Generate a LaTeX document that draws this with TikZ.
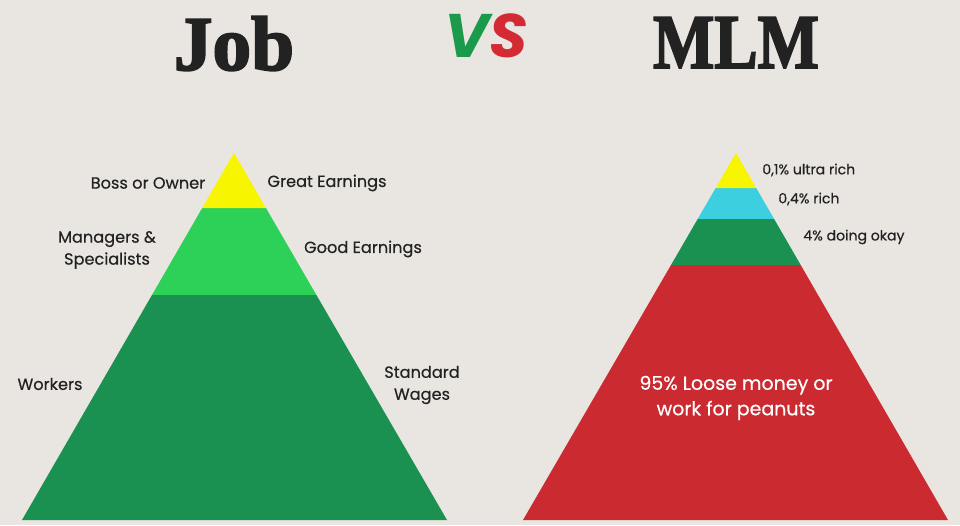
\documentclass[tikz,border=0pt]{standalone}
\usepackage{fontspec}
\setmainfont{Poppins}[FakeBold=0.4]
\newfontfamily\titlefont[BoldFeatures={FakeBold=2.5}]{Liberation Serif}
\newfontfamily\vsfont{Poppins}
\usetikzlibrary{calc,positioning}

\definecolor{paper}{HTML}{E9E5E1}
\definecolor{ink}{HTML}{222222}
\definecolor{topyellow}{HTML}{F8F500}
\definecolor{midgreen}{HTML}{2ED157}
\definecolor{darkgreen}{HTML}{1A9150}
\definecolor{richcyan}{HTML}{3CCFE0}
\definecolor{lossred}{HTML}{CC2A31}
\definecolor{vsgreen}{HTML}{1A9A4A}
\definecolor{vsred}{HTML}{D42A33}

\begin{document}
\begin{tikzpicture}[x=0.02cm, y=0.02cm]
\tikzstyle{title}=[font=\titlefont\bfseries\fontsize{44}{44}\selectfont, text=ink, inner sep=0pt, anchor=base]
\tikzstyle{lbl}=[font=\fontsize{9.2}{12.5}\selectfont, text=ink, align=center, inner sep=0pt]
\tikzstyle{small}=[font=\fontsize{8}{9}\selectfont, text=ink, inner sep=0pt, anchor=west]
\useasboundingbox (0,0) rectangle (960,525);
\fill[paper] (0,0) rectangle (960,525);

% titles
\node[title] (job) at (234,455) {Job};
\node[title, xscale=0.84] (mlm) at (736,457) {MLM};
\node[inner sep=0pt, anchor=base, font=\vsfont\bfseries\itshape\fontsize{35}{35}\selectfont] (vs) at (486,467) {\textcolor{vsgreen}{V}\textcolor{vsred}{S}};

% job pyramid
\coordinate (ja) at (234,372);
\coordinate (jl) at (22,5);
\coordinate (jr) at (447,5);
\fill[darkgreen] (jl) -- (jr) -- ($(ja)!0.3869!(jr)$) -- ($(ja)!0.3869!(jl)$) -- cycle;
\fill[midgreen] ($(ja)!0.3869!(jl)$) -- ($(ja)!0.3869!(jr)$) -- ($(ja)!0.1499!(jr)$) -- ($(ja)!0.1499!(jl)$) -- cycle;
\fill[topyellow] (ja) -- ($(ja)!0.1499!(jr)$) -- ($(ja)!0.1499!(jl)$) -- cycle;

\node[lbl] (boss) at (148,342) {Boss or Owner};
\node[lbl] (great) at (327,342) {Great Earnings};
\node[lbl] (mgr) at (107,275) {Managers \&\\Specialists};
\node[lbl] (good) at (363,276) {Good Earnings};
\node[lbl] (wrk) at (50,141) {Workers};
\node[lbl] (std) at (422,140) {Standard\\Wages};

% mlm pyramid
\coordinate (ma) at (736,372);
\coordinate (ml) at (523,5);
\coordinate (mr) at (948,5);
\fill[lossred] (ml) -- (mr) -- ($(ma)!0.3052!(mr)$) -- ($(ma)!0.3052!(ml)$) -- cycle;
\fill[darkgreen] ($(ma)!0.3052!(ml)$) -- ($(ma)!0.3052!(mr)$) -- ($(ma)!0.1798!(mr)$) -- ($(ma)!0.1798!(ml)$) -- cycle;
\fill[richcyan] ($(ma)!0.1798!(ml)$) -- ($(ma)!0.1798!(mr)$) -- ($(ma)!0.0954!(mr)$) -- ($(ma)!0.0954!(ml)$) -- cycle;
\fill[topyellow] (ma) -- ($(ma)!0.0954!(mr)$) -- ($(ma)!0.0954!(ml)$) -- cycle;

\node[small] (ultra) at (762,355) {0,1\% ultra rich};
\node[small] (rich) at (778,326) {0,4\% rich};
\node[small] (okay) at (803,288) {4\% doing okay};
\node[lbl, text=white, font=\fontsize{10.8}{14.5}\selectfont] (loss) at (736,127) {95\% Loose money or\\work for peanuts};
\end{tikzpicture}
\end{document}
